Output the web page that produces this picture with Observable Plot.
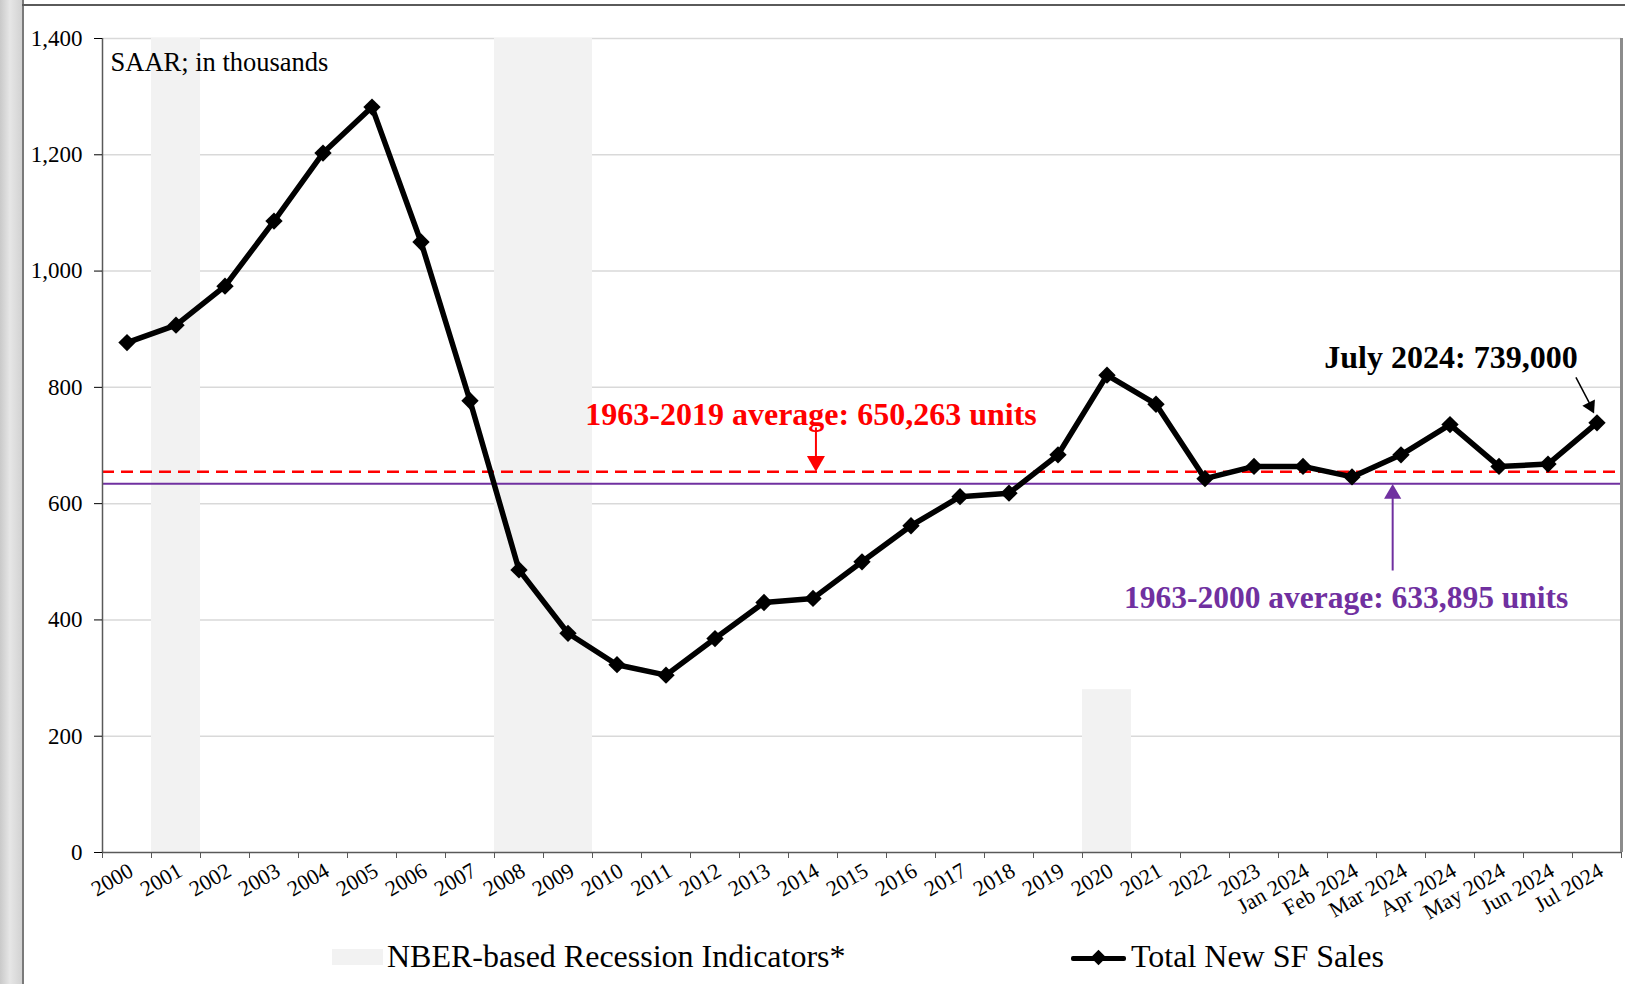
<!DOCTYPE html>
<html>
<head>
<meta charset="utf-8">
<script src="https://cdn.jsdelivr.net/npm/d3@7"></script>
<script src="https://cdn.jsdelivr.net/npm/@observablehq/plot@0.6"></script>
<style>
  html, body { margin: 0; padding: 0; background: #ffffff; }
  #wrap { position: relative; width: 1625px; height: 984px; overflow: hidden; font-family: "Liberation Serif", "Times New Roman", serif; }
  .abs { position: absolute; }
  .leg { position: absolute; font-size: 32px; line-height: 32px; color: #000; white-space: nowrap; }
</style>
</head>
<body>
<div id="wrap">
  <div class="abs" style="left:0;top:0;width:22px;height:984px;background:linear-gradient(90deg,#c9c9c9 0%,#e6e6e6 45%,#d2d2d2 100%);"></div>
  <div class="abs" style="left:22px;top:0;width:2px;height:984px;background:#7a7a7a;"></div>
  <div class="abs" style="left:22px;top:4px;width:1603px;height:2px;background:#5a5a5a;"></div>
  <div id="chart" class="abs" style="left:0;top:0;"></div>
  <div class="abs" style="left:332px;top:949px;width:51px;height:16px;background:#f2f2f2;"></div>
  <div class="leg" style="left:387px;top:940px;">NBER-based Recession Indicators*</div>
  <div class="abs" style="left:1071px;top:956px;width:55px;height:5px;background:#000;border-radius:2px;"></div>
  <div class="abs" style="left:1093px;top:952px;width:11px;height:11px;background:#000;transform:rotate(45deg);"></div>
  <div class="leg" style="left:1131px;top:940px;">Total New SF Sales</div>
</div>
<script>
// ---- Data ----
const categories = ["2000","2001","2002","2003","2004","2005","2006","2007","2008","2009",
  "2010","2011","2012","2013","2014","2015","2016","2017","2018","2019",
  "2020","2021","2022","2023","Jan 2024","Feb 2024","Mar 2024","Apr 2024","May 2024","Jun 2024","Jul 2024"];
const sales = [877, 907, 974, 1086, 1203, 1282, 1050, 777, 486, 377,
  323, 305, 368, 430, 437, 500, 562, 612, 618, 684,
  821, 771, 643, 664, 664, 646, 684, 736, 664, 668, 739];
const recessionCats = ["2001", "2008", "2009", "2020"];
const recessionTops = [1400, 1400, 1400, 280];
const yTicks = [0, 200, 400, 600, 800, 1000, 1200, 1400];
const averageValues = [655, 634];
const averageLabels = ["1963-2019 average: 650,263 units", "1963-2000 average: 633,895 units"];
const latestLabel = "July 2024: 739,000";
const unitLabel = "SAAR; in thousands";

// ---- Derived tables ----
const series = categories.map((c, i) => ({i, c, v: sales[i]}));
const recessions = recessionCats.map((c, k) => ({i: categories.indexOf(c), top: recessionTops[k]}));
const n = categories.length;
const cx = d => d.i + 0.5;

const chart = Plot.plot({
  width: 1625,
  height: 925,
  marginLeft: 102,
  marginRight: 4,
  marginTop: 38,
  marginBottom: 73,
  x: {domain: [0, n], axis: null},
  y: {domain: [0, 1400], axis: null},
  style: {background: "transparent", fontFamily: "Liberation Serif, Times New Roman, serif", color: "#000"},
  marks: [
    Plot.ruleY(yTicks.filter(t => t > 0), {stroke: "#d9d9d9", strokeWidth: 1.5}),
    Plot.rect(recessions, {x1: d => d.i, x2: d => d.i + 1, y1: 0, y2: d => d.top, fill: "#f2f2f2"}),
    Plot.ruleY([averageValues[0]], {stroke: "#ff0000", strokeWidth: 2.5, strokeDasharray: "12,7"}),
    Plot.ruleY([averageValues[1]], {stroke: "#7030a0", strokeWidth: 2}),
    Plot.ruleX([0], {stroke: "#595959", strokeWidth: 1.5}),
    Plot.ruleY([0], {stroke: "#595959", strokeWidth: 1.5}),
    Plot.ruleX([n], {stroke: "#8c8c8c", strokeWidth: 3}),
    Plot.axisX(d3.range(n + 1), {tickSize: 6, tickFormat: () => "", label: null, stroke: "#595959"}),
    Plot.axisY(yTicks, {tickSize: 8, tickPadding: 12, fontSize: 23, tickFormat: d3.format(","), label: null}),
    Plot.text(categories, {x: (d, i) => i + 0.5, y: 0, text: d => d, rotate: -30, textAnchor: "end",
      lineAnchor: "top", dx: 0, dy: 9, fontSize: 22, fill: "#000"}),
    Plot.line(series, {x: cx, y: "v", stroke: "#000", strokeWidth: 5.5}),
    Plot.dot(series, {x: cx, y: "v", symbol: "diamond2", r: 7.8, fill: "#000", stroke: "none"}),
    // unit note
    Plot.text([unitLabel], {frameAnchor: "top-left", text: d => d, textAnchor: "start", lineAnchor: "top",
      dx: 8, dy: 14, fontSize: 26.5, fill: "#000"}),
    // red average annotation
    Plot.text([averageLabels[0]], {x: 14.46, y: 735, text: d => d, lineAnchor: "bottom", fontSize: 32,
      fontWeight: "bold", fill: "#ff0000"}),
    Plot.link([0], {x1: 14.56, x2: 14.56, y1: 731, y2: averageValues[0] + 20, stroke: "#ff0000", strokeWidth: 2}),
    Plot.dot([0], {x: 14.56, y: averageValues[0], symbol: "triangle", r: 6.7, rotate: 180, dy: -10.4,
      fill: "#ff0000", stroke: "none"}),
    // purple average annotation
    Plot.text([averageLabels[1]], {x: 25.38, y: 421, text: d => d, lineAnchor: "bottom", fontSize: 31.5,
      fontWeight: "bold", fill: "#7030a0"}),
    Plot.link([0], {x1: 26.33, x2: 26.33, y1: 485, y2: averageValues[1] - 20, stroke: "#7030a0", strokeWidth: 2}),
    Plot.dot([0], {x: 26.33, y: averageValues[1], symbol: "triangle", r: 6.4, rotate: 0, dy: 10,
      fill: "#7030a0", stroke: "none"}),
    // latest value annotation
    Plot.text([latestLabel], {x: 27.52, y: 834, text: d => d, lineAnchor: "bottom", fontSize: 32,
      fontWeight: "bold", fill: "#000"}),
    Plot.link([0], {x1: 30.07, y1: 817, x2: 30.37, y2: 769, stroke: "#000", strokeWidth: 1.5}),
    Plot.dot([0], {x: 30.44, y: 755, symbol: "triangle", r: 5.2, rotate: 153.4, dx: -3.6, dy: -7.2,
      fill: "#000", stroke: "none"})
  ]
});
document.getElementById("chart").appendChild(chart);
</script>
</body>
</html>
